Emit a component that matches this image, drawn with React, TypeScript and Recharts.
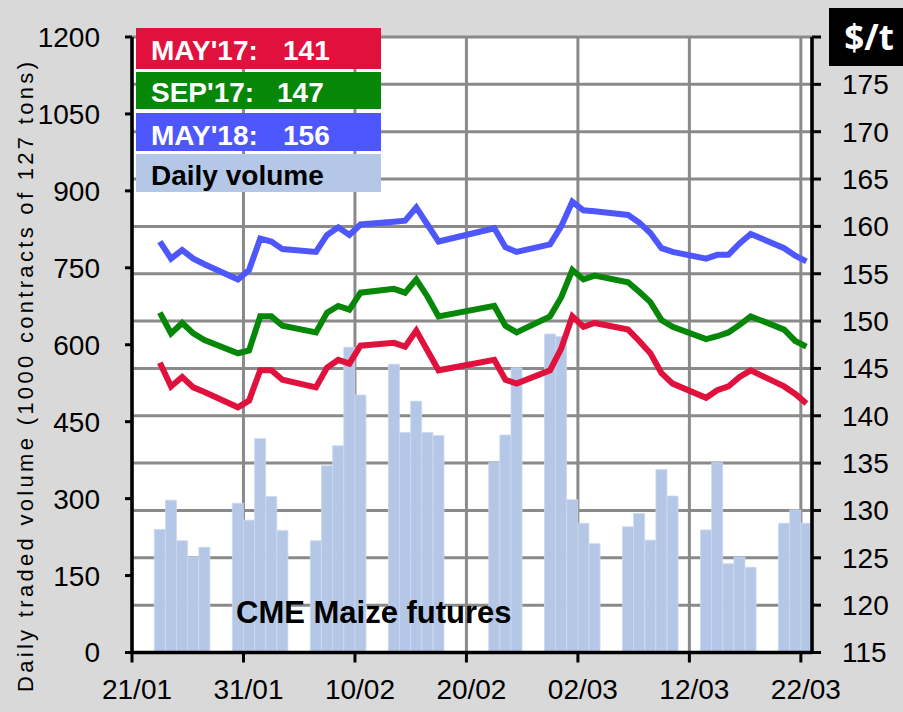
import { Bar, CartesianGrid, ComposedChart, Line, XAxis, YAxis } from "recharts";

// trading days shown, 2017 (dd/mm)
const tradingDates = [
  "23/01", "24/01", "25/01", "26/01", "27/01",
  "30/01", "31/01", "01/02", "02/02", "03/02",
  "06/02", "07/02", "08/02", "09/02", "10/02",
  "13/02", "14/02", "15/02", "16/02", "17/02",
  "22/02", "23/02", "24/02",
  "27/02", "28/02", "01/03", "02/03", "03/03",
  "06/03", "07/03", "08/03", "09/03", "10/03",
  "13/03", "14/03", "15/03", "16/03", "17/03",
  "20/03", "21/03", "22/03",
];

// 1000 contracts
const dailyVolume = [
  240, 297, 218, 186, 205,
  291, 258, 417, 304, 238,
  218, 364, 403, 595, 502,
  562, 429, 490, 429, 423,
  370, 424, 555,
  621, 616, 298, 252, 212,
  245, 271, 219, 357, 305,
  239, 370, 173, 186, 166,
  252, 278, 252,
];

// $/t
const may17 = [
  145.6, 143.1, 144.1, 143.0, 142.5,
  140.9, 141.6, 144.8, 144.8, 143.8,
  143.0, 145.1, 145.9, 145.5, 147.4,
  147.7, 147.3, 149.0, 146.9, 144.8,
  145.9, 143.8, 143.4,
  144.8, 147.1, 150.5, 149.4, 149.8,
  149.1, 147.9, 146.6, 144.5, 143.4,
  141.9, 142.7, 143.1, 144.1, 144.8,
  143.1, 142.3, 141.3,
];

const sep17 = [
  150.9, 148.7, 149.8, 148.7, 148.0,
  146.6, 146.9, 150.5, 150.5, 149.5,
  148.8, 150.9, 151.6, 151.2, 153.0,
  153.4, 153.0, 154.4, 152.6, 150.5,
  151.6, 149.5, 148.8,
  150.5, 152.5, 155.4, 154.4, 154.8,
  154.1, 153.1, 152.0, 150.1, 149.4,
  148.1, 148.4, 148.8, 149.6, 150.5,
  149.1, 147.9, 147.3,
];

const may18 = [
  158.4, 156.6, 157.5, 156.6, 156.0,
  154.4, 155.4, 158.7, 158.4, 157.6,
  157.3, 159.1, 159.9, 159.1, 160.2,
  160.5, 160.6, 162.0, 160.2, 158.4,
  159.8, 157.8, 157.3,
  158.1, 160.0, 162.6, 161.7, 161.6,
  161.2, 160.4, 159.3, 157.7, 157.3,
  156.6, 157.0, 157.0, 158.2, 159.2,
  157.7, 156.9, 156.3,
];

const dateTicks = ["21/01", "31/01", "10/02", "20/02", "02/03", "12/03", "22/03"];
const volumeTicks = [0, 150, 300, 450, 600, 750, 900, 1050, 1200];
const priceTicks = [115, 120, 125, 130, 135, 140, 145, 150, 155, 160, 165, 170, 175, 180];

const legendRows = [
  { label: "MAY'17:", value: "141", color: "#e0113d" },
  { label: "SEP'17:", value: "147", color: "#078707" },
  { label: "MAY'18:", value: "156", color: "#4d57fd" },
];

const FONT = "'Liberation Sans', Arial, sans-serif";
const BAR_COLOR = "#b4c7e7";

const dayOffset = (s: string) => {
  const [d, m] = s.split("/").map(Number);
  return Math.round((Date.UTC(2017, m - 1, d) - Date.UTC(2017, 0, 21)) / 864e5);
};

// Excel date axis: points sit in the middle of each day slot
const data = tradingDates.map((date, i) => ({
  day: dayOffset(date) + 0.5,
  volume: dailyVolume[i],
  may17: may17[i],
  sep17: sep17[i],
  may18: may18[i],
}));

const tickFont = { fontSize: 28, fill: "#000", fontFamily: FONT };

const DateTick = (props: any) => {
  const { x, y, payload } = props;
  const label = dateTicks[Math.round(payload.value / 10)] ?? "";
  return (
    <text x={x + 5} y={y} dy="0.71em" textAnchor="middle" {...tickFont}>
      {label}
    </text>
  );
};

const PriceTick = (props: any) => {
  const { x, y, payload } = props;
  if (payload.value === 180) {
    return (
      <g>
        <rect x={x - 13} y={y - 29} width={80} height={58} fill="#000" />
        <text
          x={x + 27}
          y={y + 13}
          textAnchor="middle"
          fontSize={35}
          fontWeight="bold"
          fill="#fff"
          fontFamily="'Open Sans', sans-serif"
        >
          $/t
        </text>
      </g>
    );
  }
  return (
    <text x={x} y={y} dy="0.355em" textAnchor="start" {...tickFont}>
      {payload.value}
    </text>
  );
};

export default function App() {
  return (
    <div
      style={{
        position: "absolute",
        left: 0,
        top: 0,
        width: 903,
        height: 712,
        background: "#d9d9d9",
        fontFamily: FONT,
      }}
    >
      <ComposedChart
        width={903}
        height={712}
        data={data}
        margin={{ top: 37, right: 0, bottom: 0, left: 0 }}
      >
        <CartesianGrid
          yAxisId="price"
          stroke="#8a8a8a"
          strokeWidth={3}
          fill="#fff"
          fillOpacity={1}
        />
        <XAxis
          dataKey="day"
          type="number"
          domain={[0, 61]}
          allowDataOverflow
          ticks={dateTicks.map(dayOffset)}
          interval={0}
          height={59.5}
          tickSize={10}
          tickMargin={17}
          axisLine={{ stroke: "#000", strokeWidth: 3.5 }}
          tickLine={{ stroke: "#000", strokeWidth: 3 }}
          tick={<DateTick />}
        />
        <YAxis
          yAxisId="vol"
          orientation="left"
          width={132}
          domain={[0, 1200]}
          ticks={volumeTicks}
          interval={0}
          tickSize={7}
          tickMargin={25}
          axisLine={{ stroke: "#000", strokeWidth: 3.5 }}
          tickLine={{ stroke: "#000", strokeWidth: 3 }}
          tick={tickFont}
        />
        <YAxis
          yAxisId="price"
          orientation="right"
          width={91}
          domain={[115, 180]}
          ticks={priceTicks}
          interval={0}
          tickSize={9}
          tickMargin={21}
          axisLine={{ stroke: "#000", strokeWidth: 3.5 }}
          tickLine={{ stroke: "#000", strokeWidth: 3 }}
          tick={<PriceTick />}
        />
        <Bar
          yAxisId="vol"
          dataKey="volume"
          fill={BAR_COLOR}
          stroke="#cbd8ef"
          strokeWidth={0.8}
          barSize={11}
          isAnimationActive={false}
        />
        <Line
          yAxisId="price"
          type="linear"
          dataKey="may18"
          stroke="#4d57fd"
          strokeWidth={6}
          dot={false}
          isAnimationActive={false}
        />
        <Line
          yAxisId="price"
          type="linear"
          dataKey="sep17"
          stroke="#078707"
          strokeWidth={6}
          dot={false}
          isAnimationActive={false}
        />
        <Line
          yAxisId="price"
          type="linear"
          dataKey="may17"
          stroke="#e0113d"
          strokeWidth={6}
          dot={false}
          isAnimationActive={false}
        />
      </ComposedChart>

      <svg
        width={903}
        height={712}
        style={{ position: "absolute", left: 0, top: 0, pointerEvents: "none" }}
      >
        <text
          x={25}
          y={377}
          transform="rotate(-90 25 377)"
          textAnchor="middle"
          dominantBaseline="central"
          fontSize={22}
          fontFamily={FONT}
          fill="#000"
          textLength={630}
          lengthAdjust="spacing"
        >
          Daily traded volume (1000 contracts of 127 tons)
        </text>

        {legendRows.map((row, i) => {
          const top = [28, 72, 113][i];
          const h = [41, 37, 38][i];
          const base = [60, 102, 145][i];
          const numX = [283, 277, 283][i];
          return (
            <g key={row.label} fontFamily={FONT} fontWeight="bold" fontSize={28} fill="#fff">
              <rect x={136} y={top} width={245} height={h} fill={row.color} />
              <text x={151} y={base}>{row.label}</text>
              <text x={numX} y={base}>{row.value}</text>
            </g>
          );
        })}
        <rect x={136} y={154} width={245} height={38} fill={BAR_COLOR} />
        <text x={151} y={185} fontFamily={FONT} fontWeight="bold" fontSize={28} fill="#000">
          Daily volume
        </text>

        <text x={236} y={623} fontFamily={FONT} fontWeight="bold" fontSize={31} fill="#000">
          CME Maize futures
        </text>
      </svg>
    </div>
  );
}
